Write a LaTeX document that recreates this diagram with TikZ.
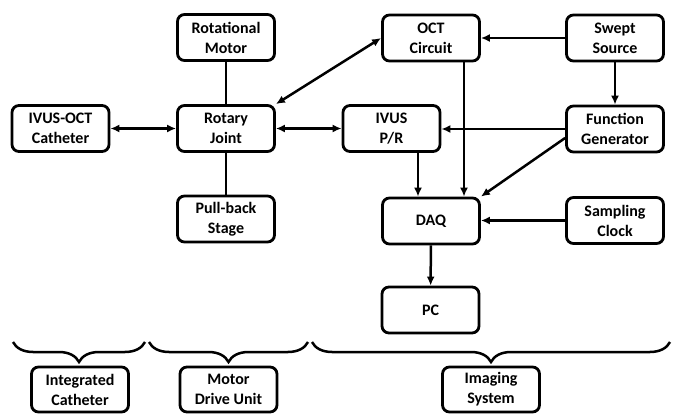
\documentclass[tikz,border=0pt]{standalone}
\usepackage{fontspec}
\setmainfont{Carlito}
\usetikzlibrary{arrows.meta,decorations.pathreplacing}
\tikzset{
  blk/.style={draw=black, line width=2.8pt, rounded corners=7pt, minimum width=97pt, minimum height=46pt, inner sep=0pt, align=center, font=\fontsize{16}{20}\selectfont\bfseries},
  conn/.style={line width=2.5pt},
  arr/.style={conn, -{Latex[length=9pt,width=8pt]}},
  dbl/.style={conn, {Latex[length=9pt,width=8pt]}-{Latex[length=9pt,width=8pt]}},
  brc/.style={conn, decorate, decoration={brace, mirror, amplitude=20pt}}
}
\begin{document}
\begin{tikzpicture}[x=1pt, y=-1pt]
\useasboundingbox (0,0) rectangle (675,414);
\node[blk] (motor) at (226,37.5) {Rotational\\Motor};
\node[blk] (cath) at (60.5,128.5) {IVUS-OCT\\Catheter};
\node[blk] (rj) at (226,128.5) {Rotary\\Joint};
\node[blk] (pb) at (226,219) {Pull-back\\Stage};
\node[blk] (oct) at (431,38) {OCT\\Circuit};
\node[blk] (ss) at (615,38) {Swept\\Source};
\node[blk] (ivus) at (391.5,128.5) {IVUS\\P/R};
\node[blk] (fg) at (615,129) {Function\\Generator};
\node[blk] (daq) at (431,221) {DAQ};
\node[blk] (sc) at (615,220.5) {Sampling\\Clock};
\node[blk] (pc) at (430.5,310) {PC};
\node[blk, minimum height=45pt] (l1) at (80,389.5) {Integrated\\Catheter};
\node[blk, minimum height=45pt] (l2) at (228.5,389.5) {Motor\\Drive Unit};
\node[blk, minimum height=45pt] (l3) at (491,389.5) {Imaging\\System};

\draw[conn] (motor) -- (rj);
\draw[conn] (rj) -- (pb);
\draw[dbl] (cath) -- (rj);
\draw[dbl] (rj) -- (ivus);
\draw[dbl] (rj.north east) -- (oct.west);
\draw[arr] (ss) -- (oct);
\draw[arr] (ss) -- (fg);
\draw[arr] (fg.west) -- (fg.west -| ivus.east);
\draw[arr] ([xshift=33pt]oct.south) -- ([xshift=33pt]oct.south |- daq.north);
\draw[arr] ([xshift=26.5pt]ivus.south) -- ([xshift=26.5pt]ivus.south |- daq.north);
\draw[arr] ([yshift=-9pt]fg.west) -- (daq.north east);
\draw[arr] (sc.west) -- (sc.west -| daq.east);
\draw[arr] (daq) -- (pc);

\coordinate (b1a) at (13,342);
\coordinate (b1b) at (145,342);
\coordinate (b2a) at (149,342);
\coordinate (b2b) at (308,342);
\coordinate (b3a) at (312,342);
\coordinate (b3b) at (670,342);
\draw[brc] (b1a) -- (b1b);
\draw[brc] (b2a) -- (b2b);
\draw[brc] (b3a) -- (b3b);
\end{tikzpicture}
\end{document}
